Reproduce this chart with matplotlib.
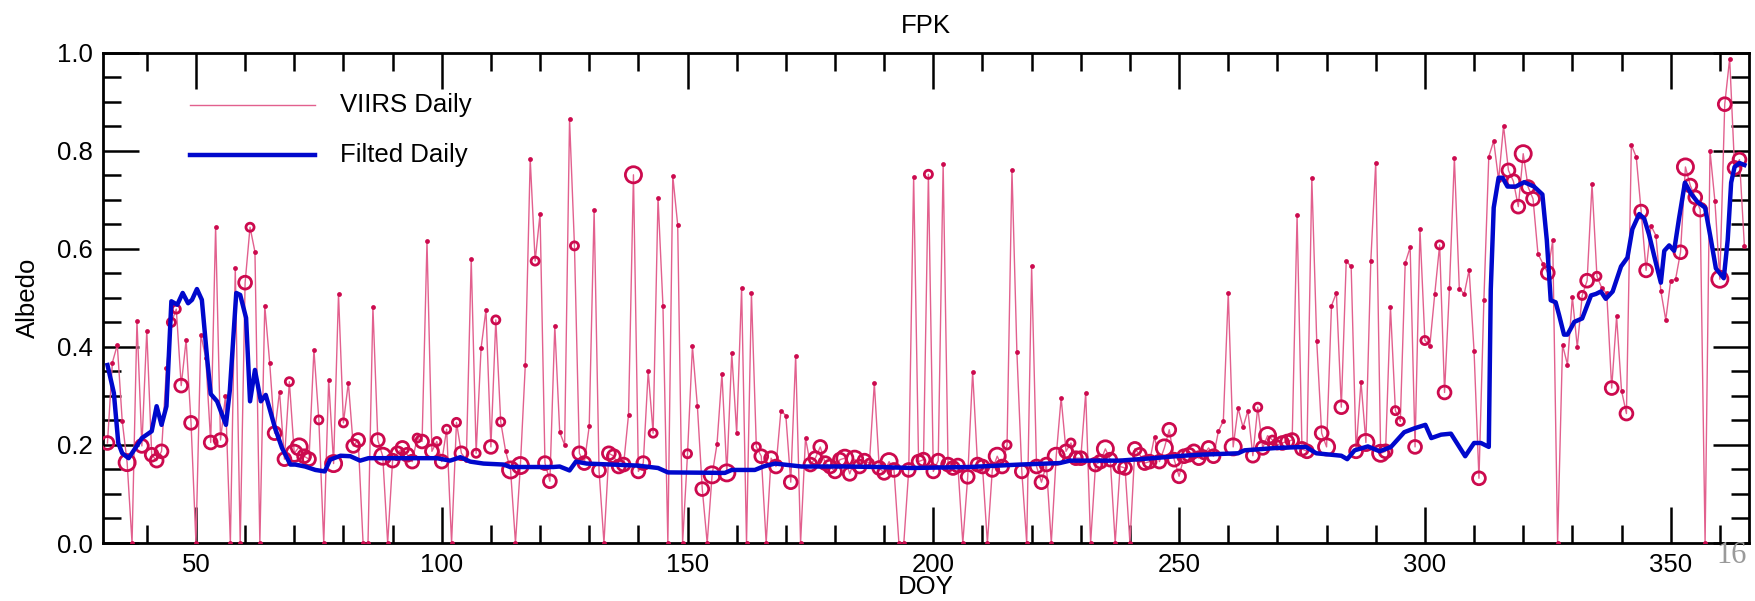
import matplotlib
matplotlib.use("Agg")
import matplotlib.pyplot as plt
from matplotlib.ticker import MultipleLocator, FormatStrFormatter

plt.rcParams['font.family'] = ['Liberation Sans', 'DejaVu Sans']

# VIIRS daily albedo, DOY 32..365
first_doy = 32
viirs_daily = [
    0.204, 0.368, 0.404, 0.249, 0.164, 0.0, 0.453, 0.198, 0.433,          # 32-40
    0.18, 0.168, 0.187, 0.357, 0.45, 0.477, 0.321, 0.414, 0.245, 0.0,     # 41-50
    0.425, 0.377, 0.205, 0.645, 0.21, 0.30, 0.0, 0.56, 0.0, 0.531,       # 51-60
    0.644, 0.594, 0.0, 0.484, 0.368, 0.224, 0.309, 0.171, 0.329, 0.183,  # 61-70
    0.196, 0.177, 0.171, 0.394, 0.251, 0.0, 0.333, 0.162, 0.508, 0.245,  # 71-80
    0.327, 0.198, 0.21, 0.0, 0.0, 0.481, 0.21, 0.177, 0.0, 0.168,        # 81-90
    0.183, 0.194, 0.18, 0.166, 0.214, 0.207, 0.615, 0.187, 0.207, 0.166, # 91-100
    0.232, 0.0, 0.246, 0.183, 0.17, 0.579, 0.183, 0.397, 0.476, 0.196,   # 101-110
    0.455, 0.247, 0.187, 0.149, 0.0, 0.158, 0.363, 0.783, 0.575, 0.671,  # 111-120
    0.163, 0.126, 0.443, 0.226, 0.2, 0.864, 0.606, 0.183, 0.163, 0.238,  # 121-130
    0.679, 0.148, 0.0, 0.183, 0.177, 0.156, 0.16, 0.262, 0.751, 0.146,   # 131-140
    0.163, 0.35, 0.224, 0.704, 0.484, 0.0, 0.749, 0.649, 0.0, 0.182,     # 141-150
    0.401, 0.28, 0.11, 0.0, 0.139, 0.202, 0.345, 0.143, 0.387, 0.224,    # 151-160
    0.52, 0.0, 0.51, 0.196, 0.177, 0.0, 0.173, 0.156, 0.27, 0.26,        # 161-170
    0.124, 0.382, 0.0, 0.214, 0.16, 0.173, 0.196, 0.163, 0.156, 0.146,   # 171-180
    0.17, 0.173, 0.141, 0.171, 0.156, 0.168, 0.163, 0.326, 0.153, 0.143, # 181-190
    0.166, 0.149, 0.0, 0.0, 0.149, 0.747, 0.166, 0.17, 0.752, 0.146,     # 191-200
    0.168, 0.772, 0.16, 0.153, 0.158, 0.0, 0.135, 0.349, 0.16, 0.156,    # 201-210
    0.0, 0.149, 0.177, 0.156, 0.2, 0.761, 0.39, 0.146, 0.0, 0.564,       # 211-220
    0.156, 0.124, 0.16, 0.0, 0.177, 0.296, 0.187, 0.204, 0.173, 0.173,   # 221-230
    0.306, 0.0, 0.16, 0.166, 0.192, 0.17, 0.0, 0.156, 0.153, 0.0,        # 231-240
    0.192, 0.18, 0.163, 0.166, 0.217, 0.166, 0.194, 0.231, 0.17, 0.136,  # 241-250
    0.177, 0.18, 0.187, 0.173, 0.18, 0.194, 0.177, 0.228, 0.249, 0.51,   # 251-260
    0.196, 0.275, 0.236, 0.27, 0.178, 0.277, 0.194, 0.219, 0.21, 0.2,    # 261-270
    0.204, 0.207, 0.21, 0.668, 0.192, 0.187, 0.744, 0.411, 0.224, 0.196, # 271-280
    0.484, 0.51, 0.277, 0.575, 0.564, 0.187, 0.329, 0.205, 0.575, 0.776, # 281-290
    0.183, 0.187, 0.481, 0.27, 0.248, 0.571, 0.603, 0.196, 0.64, 0.413,  # 291-300
    0.402, 0.507, 0.608, 0.307, 0.521, 0.785, 0.519, 0.508, 0.557, 0.392,# 301-310
    0.132, 0.495, 0.788, 0.82, 0.74, 0.851, 0.76, 0.738, 0.686, 0.794,   # 311-320
    0.726, 0.702, 0.59, 0.57, 0.551, 0.617, 0.0, 0.404, 0.364, 0.502,    # 321-330
    0.399, 0.505, 0.535, 0.732, 0.544, 0.52, 0.509, 0.316, 0.462, 0.311, # 331-340
    0.264, 0.812, 0.787, 0.676, 0.556, 0.647, 0.627, 0.514, 0.455, 0.535,# 341-350
    0.538, 0.593, 0.767, 0.729, 0.705, 0.68, 0.0, 0.8, 0.697, 0.538,     # 351-360
    0.895, 0.988, 0.765, 0.782, 0.605,                                   # 361-365
]
# symbol size class per day (0 = dot, 1..3 = open circles)
symbol_class = [
    2, 0, 0, 0, 3, 0, 0, 2, 0,
    2, 2, 2, 0, 1, 1, 2, 0, 2, 0,
    0, 0, 2, 0, 2, 0, 0, 0, 0, 2,
    1, 0, 0, 0, 0, 2, 0, 2, 1, 3,
    3, 2, 2, 0, 1, 0, 0, 3, 0, 1,
    0, 2, 2, 0, 0, 0, 2, 3, 0, 2,
    2, 2, 2, 2, 1, 2, 0, 2, 1, 2,
    1, 0, 1, 2, 0, 0, 1, 0, 0, 2,
    1, 1, 0, 3, 0, 3, 0, 0, 1, 0,
    2, 2, 0, 0, 0, 0, 1, 2, 2, 0,
    0, 2, 0, 2, 2, 2, 2, 0, 3, 2,
    2, 0, 1, 0, 0, 0, 0, 0, 0, 1,
    0, 0, 2, 0, 3, 0, 0, 3, 0, 0,
    0, 0, 0, 1, 2, 0, 2, 2, 0, 0,
    2, 0, 0, 0, 2, 2, 2, 2, 2, 2,
    2, 3, 2, 3, 2, 2, 1, 0, 2, 2,
    3, 2, 0, 0, 2, 0, 2, 2, 1, 2,
    2, 0, 2, 2, 2, 0, 2, 0, 2, 2,
    0, 2, 3, 2, 1, 0, 0, 2, 0, 0,
    2, 2, 2, 0, 3, 0, 2, 1, 2, 2,
    0, 0, 2, 2, 3, 2, 0, 2, 2, 0,
    2, 2, 2, 2, 0, 2, 3, 2, 2, 2,
    2, 2, 2, 2, 1, 2, 2, 0, 0, 0,
    3, 0, 0, 0, 2, 1, 2, 3, 1, 1,
    2, 2, 2, 0, 2, 2, 0, 0, 2, 3,
    0, 0, 2, 0, 0, 2, 0, 3, 0, 0,
    3, 2, 0, 1, 1, 0, 0, 2, 0, 1,
    0, 0, 1, 2, 0, 0, 0, 0, 0, 0,
    2, 0, 0, 0, 0, 0, 2, 2, 2, 3,
    2, 2, 0, 0, 2, 0, 0, 0, 0, 0,
    0, 1, 2, 0, 1, 0, 0, 2, 0, 0,
    2, 0, 0, 2, 2, 0, 0, 0, 0, 0,
    0, 2, 3, 2, 2, 2, 0, 0, 0, 3,
    2, 0, 2, 2, 0,
]

# filtered daily albedo (vertices)
filt_doy = [32, 33.3, 34.2, 35, 36.3, 37.7, 39, 41, 42, 43, 44, 45, 46.2, 47.3, 48.4,
            49.2, 50.2, 51.2, 52.3, 53, 54.3, 55.3, 56.1, 56.9, 58.2, 59, 60.2, 61, 62,
            63.2, 64.2, 66.1, 67.5, 69.2, 70.2, 72.2, 74.3, 76.2, 77.3, 79.4, 81.4, 83.4,
            85.1, 92, 99, 101.7, 103.8, 105.8, 108.5, 112.6, 113.9, 122.7, 124, 126,
            127.3, 129.5, 139.7, 144, 146, 157.6, 159, 163.7, 165.4, 167.8, 173.2, 182,
            188.8, 195.6, 207.4, 217.6, 225.7, 227.8, 237.9, 244.7, 249.4, 254, 262,
            263.3, 270, 275.8, 277.9, 283, 284.2, 285.7, 288.4, 290.8, 293.1, 295.8,
            297.9, 300.1, 301.3, 303.3, 305.3, 308.2, 310, 311.4, 313, 313.4, 314, 315,
            315.8, 316.8, 318.5, 320.2, 322.2, 323.9, 324.8, 325.6, 326.6, 327.3, 328.3,
            329, 330.4, 332, 333.8, 334.8, 335.8, 336.8, 338.2, 339.9, 341.2, 342.2,
            343.6, 344.6, 345.6, 347, 348, 348.7, 349.7, 350.7, 351.7, 352.9, 354.1,
            355.5, 357, 358.2, 359.2, 360.8, 361.6, 362.3, 363, 364, 365]
filt_val = [0.363, 0.306, 0.204, 0.183, 0.173, 0.194, 0.214, 0.228, 0.279, 0.241, 0.279,
            0.493, 0.486, 0.51, 0.489, 0.496, 0.518, 0.496, 0.374, 0.304, 0.289, 0.262,
            0.241, 0.312, 0.51, 0.506, 0.459, 0.289, 0.353, 0.289, 0.302, 0.234, 0.194,
            0.16, 0.16, 0.156, 0.149, 0.146, 0.17, 0.178, 0.177, 0.168, 0.173, 0.173,
            0.173, 0.168, 0.175, 0.166, 0.162, 0.16, 0.155, 0.155, 0.156, 0.148, 0.166,
            0.162, 0.158, 0.153, 0.144, 0.143, 0.149, 0.149, 0.156, 0.162, 0.156, 0.156,
            0.155, 0.153, 0.155, 0.16, 0.163, 0.168, 0.168, 0.173, 0.177, 0.18, 0.183,
            0.189, 0.194, 0.196, 0.183, 0.178, 0.171, 0.189, 0.197, 0.187, 0.196, 0.226,
            0.234, 0.241, 0.214, 0.221, 0.223, 0.177, 0.204, 0.204, 0.196, 0.516, 0.684,
            0.745, 0.745, 0.727, 0.727, 0.736, 0.727, 0.711, 0.618, 0.495, 0.491, 0.465,
            0.425, 0.425, 0.451, 0.458, 0.505, 0.508, 0.513, 0.498, 0.513, 0.564, 0.582,
            0.64, 0.671, 0.662, 0.629, 0.571, 0.531, 0.596, 0.607, 0.596, 0.662, 0.735,
            0.713, 0.695, 0.684, 0.618, 0.56, 0.54, 0.618, 0.735, 0.767, 0.775, 0.771]

ring_sizes = {1: 34, 2: 85, 3: 135}

doy = list(range(first_doy, first_doy + len(viirs_daily)))

fig = plt.figure(figsize=(17.56, 6.01), dpi=100)
ax = fig.add_axes([0.0584, 0.0965, 0.9378, 0.8158])

pink_line = '#e2608e'
pink_mark = '#cc0a4e'
blue = '#0008cc'
fs = 18.5

ax.plot(doy, viirs_daily, color=pink_line, lw=1.0, zorder=2)

dot_x = [d for d, c in zip(doy, symbol_class) if c == 0]
dot_y = [v for v, c in zip(viirs_daily, symbol_class) if c == 0]
ax.scatter(dot_x, dot_y, s=12, color=pink_mark, zorder=3, linewidths=0)

ring_x = [d for d, c in zip(doy, symbol_class) if c > 0]
ring_y = [v for v, c in zip(viirs_daily, symbol_class) if c > 0]
ring_s = [ring_sizes[c] for c in symbol_class if c > 0]
ax.scatter(ring_x, ring_y, s=ring_s, facecolors='none', edgecolors=pink_mark,
           linewidths=2.0, zorder=3)

ax.plot(filt_doy, filt_val, color=blue, lw=3.2, zorder=4)

ax.set_xlim(31, 366)
ax.set_ylim(0, 1)
ax.xaxis.set_major_locator(MultipleLocator(50))
ax.xaxis.set_minor_locator(MultipleLocator(10))
ax.yaxis.set_major_locator(MultipleLocator(0.2))
ax.yaxis.set_minor_locator(MultipleLocator(0.05))
ax.yaxis.set_major_formatter(FormatStrFormatter('%.1f'))
ax.tick_params(which='both', direction='in', top=True, right=True, width=1.8,
               labelsize=fs, pad=7)
ax.tick_params(which='major', length=26)
ax.tick_params(which='minor', length=13)
for s in ax.spines.values():
    s.set_linewidth(2.0)

ax.set_title('FPK', fontsize=fs, pad=14)
ax.set_xlabel('DOY', fontsize=fs, labelpad=-1)
ax.set_ylabel('Albedo', fontsize=fs, labelpad=12)

# legend drawn by hand, IDL style
ax.plot([0.053, 0.129], [0.893, 0.893], transform=ax.transAxes, color=pink_line, lw=1.0)
ax.plot([0.053, 0.129], [0.791, 0.791], transform=ax.transAxes, color=blue, lw=3.2)
ax.text(0.144, 0.893, 'VIIRS Daily', transform=ax.transAxes, fontsize=fs, va='center')
ax.text(0.144, 0.791, 'Filted Daily', transform=ax.transAxes, fontsize=fs, va='center')

fig.text(0.986, 0.076, '16', fontsize=22, color='#9a9a9a', ha='center', va='center',
         family=['Liberation Serif', 'DejaVu Serif'])

fig.savefig('out.png', dpi=100)
